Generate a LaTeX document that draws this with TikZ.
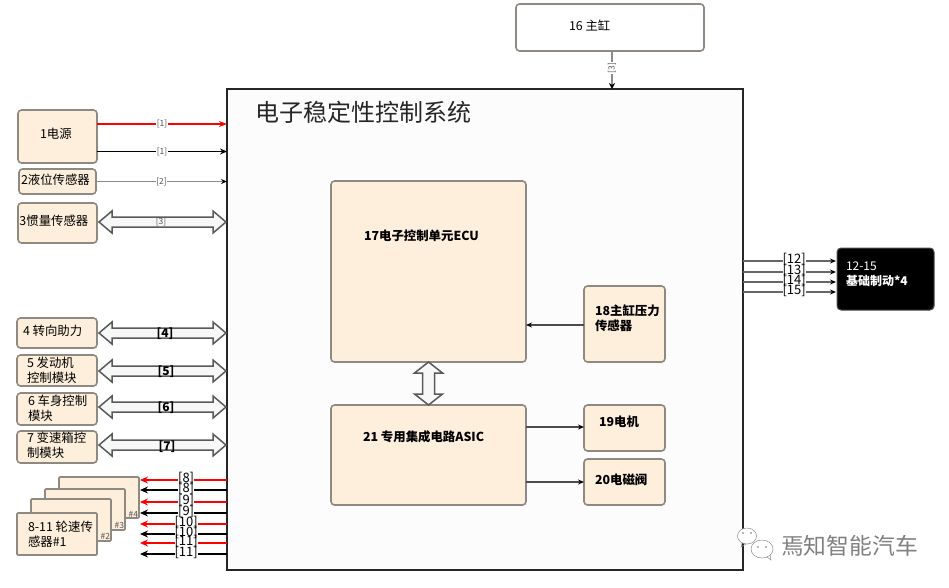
\documentclass[tikz,border=0pt]{standalone}
\usepackage{fontspec}
\setmainfont{Noto Sans CJK SC}
\usetikzlibrary{arrows.meta,calc}
\definecolor{boxfill}{HTML}{FDEFDB}
\definecolor{boxline}{HTML}{8E8A82}
\definecolor{lbl}{HTML}{555555}
\tikzset{
  x=1pt,y=-1pt,
  blk/.style={draw=boxline,line width=1.6pt,rounded corners=3.5pt,fill=boxfill,inner sep=0pt,outer sep=0pt},
  txt/.style={inner sep=0pt,outer sep=0pt,anchor=west,align=left,font=\fontsize{#1}{15}\selectfont},
  txt/.default=12.4,
  bold/.style={font=\fontsize{12.4}{15}\selectfont\bfseries},
  conn/.style={line width=1.3pt,-{Stealth[length=7pt,width=6pt]}},
  wire/.style={conn,draw=black!70},
  fat/.style={draw=black!65,line width=1.5pt,fill=white!97!black,line join=miter},
  smalllab/.style={inner sep=0.5pt,fill=white,text=lbl,font=\fontsize{8.5}{8.5}\selectfont},
  biglab/.style={inner sep=0pt,fill=white,text=black,text height=6pt,text depth=1.5pt,font=\fontsize{13}{10}\selectfont},
  midlab/.style={inner sep=0pt,text=black,font=\fontsize{12}{12}\selectfont\bfseries},
}
\newcommand{\hfat}[2]{\draw[fat] let \p1=(#1),\p2=(#2) in
  (\x1,\y1) -- (\x1+13pt,\y1+11pt) -- (\x1+13pt,\y1+5pt) -- (\x2-13pt,\y2+5pt) -- (\x2-13pt,\y2+11pt) -- (\x2,\y2)
  -- (\x2-13pt,\y2-11pt) -- (\x2-13pt,\y2-5pt) -- (\x1+13pt,\y1-5pt) -- (\x1+13pt,\y1-11pt) -- cycle;}
\begin{document}
\begin{tikzpicture}
\useasboundingbox (0,0) rectangle (949,587);
% main box
\node[draw=black!85,line width=1.8pt,fill=white!99!black,inner sep=0pt,outer sep=0pt,minimum width=516pt,minimum height=481pt] (main) at (485,329.5) {};
\node[txt=24,text=black!85] (title) at (255,112) {电子稳定性控制系统};
% master cylinder
\node[blk,fill=white,minimum width=188pt,minimum height=47pt] (n16) at (610,27.5) {};
\node[txt] (t16) at (569,25) {16 主缸};
\coordinate (m16) at (612,89);
% left boxes
\node[blk,minimum width=79pt,minimum height=53pt] (n1) at (57.5,136.5) {};
\node[txt] (t1) at (40,134) {1电源};
\node[blk,minimum width=77pt,minimum height=25pt] (n2) at (57.5,181.5) {};
\node[txt] (t2) at (21,180) {2液位传感器};
\node[blk,minimum width=79pt,minimum height=40pt] (n3) at (57.5,223) {};
\node[txt] (t3) at (19.5,221) {3惯量传感器};
\node[blk,minimum width=80pt,minimum height=30pt] (n4) at (57,333) {};
\node[txt] (t4) at (23,331) {4 转向助力};
\node[blk,minimum width=80pt,minimum height=31pt] (n5) at (57,370.5) {};
\node[txt] (t5) at (27,370) {5 发动机\\控制模块};
\node[blk,minimum width=80pt,minimum height=32pt] (n6) at (57,409) {};
\node[txt] (t6) at (28,408) {6 车身控制\\模块};
\node[blk,minimum width=80pt,minimum height=32pt] (n7) at (57,447) {};
\node[txt] (t7) at (27,445) {7 变速箱控\\制模块};
% wheel sensors
\node[blk,rounded corners=1pt,minimum width=80pt,minimum height=41pt] (w4) at (99,497.5) {};
\node[txt=8.5,text=lbl,anchor=east] (l4) at (138,514) {\#4};
\node[blk,rounded corners=1pt,minimum width=80pt,minimum height=41pt] (w3) at (85,509.5) {};
\node[txt=8.5,text=lbl,anchor=east] (l3) at (124,525) {\#3};
\node[blk,rounded corners=1pt,minimum width=80pt,minimum height=42pt] (w2) at (71,520) {};
\node[txt=8.5,text=lbl,anchor=east] (l2) at (110,536) {\#2};
\node[blk,rounded corners=1pt,minimum width=80pt,minimum height=42pt] (w1) at (57,534) {};
\node[txt] (t8) at (28,534) {8-11 轮速传\\感器\#1};
% inner boxes
\node[blk,minimum width=195pt,minimum height=181pt] (ecu) at (428.5,271.5) {};
\node[txt,bold] (tecu) at (364,236) {17电子控制单元ECU};
\node[blk,minimum width=81pt,minimum height=76pt] (n18) at (624.5,324) {};
\node[txt,bold] (t18) at (595,318) {18主缸压力\\传感器};
\node[blk,minimum width=195pt,minimum height=100pt] (asic) at (428.5,455) {};
\node[txt,bold] (tasic) at (363,437) {21 专用集成电路ASIC};
\node[blk,minimum width=81pt,minimum height=46pt] (n19) at (624.5,428) {};
\node[txt,bold] (t19) at (599,422) {19电机};
\node[blk,minimum width=81pt,minimum height=46pt] (n20) at (624.5,482) {};
\node[txt,bold] (t20) at (595,480) {20电磁阀};
% brake
\node[draw=black!70,fill=black,line width=1pt,rounded corners=4pt,inner sep=0pt,minimum width=97pt,minimum height=62pt] (brake) at (885.5,279) {};
\node[txt=12,text=white] (tb) at (846,274.5) {12-15\\\textbf{基础制动*4}};
% connectors left
\coordinate (p1a) at (n1.east |- 0,124); \coordinate (q1a) at (main.west |- 0,124);
\coordinate (p1b) at (n1.east |- 0,151.5); \coordinate (q1b) at (main.west |- 0,151.5);
\coordinate (q2) at (main.west |- n2.east);
\draw[conn,draw=red,-{Stealth[length=8pt,width=6pt,red]}] (p1a) -- node[smalllab] (c1) {[1]} (q1a);
\draw[conn,draw=black] (p1b) -- node[smalllab] (c1b) {[1]} (q1b);
\draw[conn,draw=black!45,-{Stealth[length=6pt,width=5pt,black]}] (n2.east) -- node[smalllab] (c2) {[2]} (q2);
\coordinate (a3) at (99,222); \coordinate (b3) at (226,222);
\coordinate (a4) at (99,333); \coordinate (b4) at (226,333);
\coordinate (a5) at (99,371); \coordinate (b5) at (226,371);
\coordinate (a6) at (99,407); \coordinate (b6) at (226,407);
\coordinate (a7) at (99,445); \coordinate (b7) at (226,445);
\hfat{a3}{b3}\hfat{a4}{b4}\hfat{a5}{b5}\hfat{a6}{b6}\hfat{a7}{b7}
\node[smalllab,fill=none] (c3) at (161,222) {[3]};
\node[midlab] (c4) at (165,334) {[4]};
\node[midlab] (c5) at (166,372) {[5]};
\node[midlab] (c6) at (166,408) {[6]};
\node[midlab] (c7) at (167,447) {[7]};
% wheel arrows
\foreach \yy/\cc/\lb [count=\i] in {480/red/8,490/black/8,502/red/9,513/black/9,524/red/10,534/black/10,543/red/11,554/black/11}{
  \coordinate (wa\i) at (227,\yy); \coordinate (wb\i) at (140,\yy);
  \draw[line width=1.3pt,draw=\cc,-{Stealth[length=8pt,width=7pt]}] (wa\i) -- node[biglab,pos=0.47] (wl\i) {[\lb]} (wb\i);
}
% top
\draw[conn,draw=black!45,-{Stealth[length=6pt,width=6pt,black]}] (612,51) -- node[smalllab,rotate=90,pos=0.45] (c16) {[3]} (m16);
% right connectors
\foreach \yy/\lb in {261/12,272/13,282/14,292/15}{
  \coordinate (r\lb) at (743,\yy); \coordinate (s\lb) at (836,\yy);
  \draw[line width=1.2pt,draw=black!60,-{Stealth[length=6pt,width=5pt,black]}] (r\lb) -- node[biglab,pos=0.55] (rl\lb) {[\lb]} (s\lb);
}
% inner connectors
\draw[wire,-{Stealth[length=6pt,width=5pt,black]}] (n18.west |- 0,325) -- (ecu.east |- 0,325);
\draw[wire,-{Stealth[length=6pt,width=5pt,black]}] (asic.east |- 0,427) -- (n19.west |- 0,427);
\draw[wire,-{Stealth[length=6pt,width=5pt,black]}] (asic.east |- 0,482) -- (n20.west |- 0,482);
\draw[fat] let \p1=(ecu.south),\p2=(asic.north) in
  (\x1,\y1) -- (\x1+14pt,\y1-11pt) -- (\x1+6pt,\y1-11pt) -- (\x2+6pt,\y2+11pt) -- (\x2+14pt,\y2+11pt) -- (\x2,\y2)
  -- (\x2-14pt,\y2+11pt) -- (\x2-6pt,\y2+11pt) -- (\x1-6pt,\y1-11pt) -- (\x1-14pt,\y1-11pt) -- cycle;
% watermark
\draw[black!45,line width=0.5pt,fill=white] (747,536) ellipse (9.5 and 8);
\draw[black!45,line width=0.5pt] (742,543) -- (741,547) -- (746,544);
\draw[black!45,line width=0.5pt,fill=white] (762,549) ellipse (11 and 9);
\draw[black!45,line width=0.5pt] (767,557) -- (771,560) -- (770,555);
\fill[black!55] (743,533) circle (0.8) (751,533) circle (0.8) (758,547) circle (0.8) (766,547) circle (0.8);
\node[txt=22.8,text=black!50] (wm) at (781,546) {焉知智能汽车};
\end{tikzpicture}
\end{document}
